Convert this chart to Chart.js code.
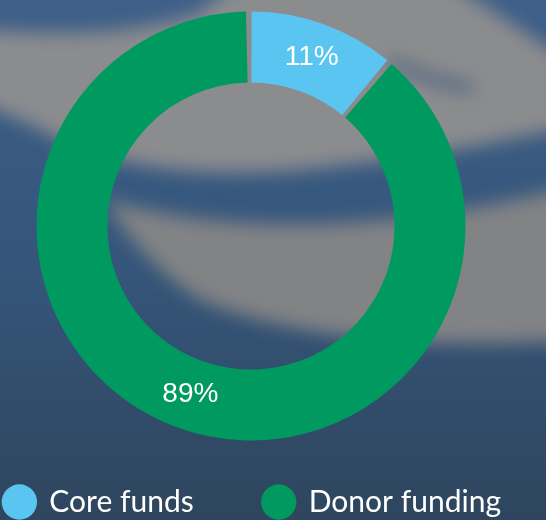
<!DOCTYPE html>
<html>
<head>
<meta charset="utf-8">
<title>Core funds and donor funding</title>
<script src="https://cdn.jsdelivr.net/npm/chart.js@4.4.1/dist/chart.umd.min.js"></script>
<style>
  html, body { margin: 0; padding: 0; }
  body { width: 546px; height: 520px; overflow: hidden; position: relative; background: #34557a; }
  #bg { position: absolute; left: 0; top: 0; }
  #chartBox { position: absolute; left: -69px; top: 0; width: 640px; height: 527px; }
</style>
</head>
<body>
<canvas id="bg" width="546" height="520"></canvas>
<div id="chartBox"><canvas id="fundingChart"></canvas></div>
<script>
const categories = ['Core funds', 'Donor funding'];
const shares = [11, 89];
const sliceColors = ['#5bc5f2', '#00995f'];

// blurred photo-like backdrop behind the chart
function paintBackground() {
    const g = document.getElementById('bg').getContext('2d');
    const grad = g.createLinearGradient(0, 0, 0, 520);
    grad.addColorStop(0, '#3e6089');
    grad.addColorStop(0.5, '#35567b');
    grad.addColorStop(1, '#2e455d');
    g.fillStyle = grad;
    g.fillRect(0, 0, 546, 520);

    g.filter = 'blur(9px)';
    // upper wing
    g.fillStyle = '#8b8c8e';
    g.beginPath();
    g.moveTo(-30, 28);
    g.quadraticCurveTo(120, 42, 200, 12);
    g.lineTo(250, -30);
    g.lineTo(430, -30);
    g.lineTo(580, 68);
    g.lineTo(580, 124);
    g.quadraticCurveTo(450, 155, 300, 170);
    g.quadraticCurveTo(150, 182, 60, 140);
    g.quadraticCurveTo(20, 118, -30, 100);
    g.closePath();
    g.fill();
    // lower wing
    g.fillStyle = '#828385';
    g.beginPath();
    g.moveTo(105, 200);
    g.quadraticCurveTo(300, 255, 580, 185);
    g.lineTo(580, 340);
    g.quadraticCurveTo(330, 355, 200, 300);
    g.quadraticCurveTo(140, 260, 105, 200);
    g.closePath();
    g.fill();
    // thin dark streak in the upper right
    g.strokeStyle = 'rgba(58, 86, 124, 0.8)';
    g.lineWidth = 9;
    g.beginPath();
    g.moveTo(390, 62);
    g.quadraticCurveTo(430, 82, 472, 88);
    g.stroke();
    g.filter = 'none';
}
paintBackground();

const sliceLabels = {
    id: 'sliceLabels',
    afterDatasetsDraw(chart) {
        const ctx = chart.ctx;
        const meta = chart.getDatasetMeta(0);
        ctx.save();
        ctx.font = '28px "Liberation Sans", Arial, sans-serif';
        ctx.fillStyle = '#ffffff';
        ctx.textAlign = 'center';
        ctx.textBaseline = 'middle';
        meta.data.forEach((arc, i) => {
            const pos = arc.tooltipPosition();
            ctx.fillText(shares[i] + '%', pos.x, pos.y);
        });
        ctx.restore();
    }
};

new Chart(document.getElementById('fundingChart'), {
    type: 'doughnut',
    data: {
        labels: categories,
        datasets: [{
            data: shares,
            backgroundColor: sliceColors,
            borderWidth: 0,
            hoverOffset: 0,
            spacing: 3,
            radius: 213,
            cutout: '66.7%',
            clip: false
        }]
    },
    options: {
        responsive: true,
        maintainAspectRatio: false,
        animation: false,
        events: [],
        layout: { padding: { top: 35, bottom: 0, left: 0, right: 0 } },
        plugins: {
            tooltip: { enabled: false },
            legend: {
                position: 'bottom',
                align: 'end',
                labels: {
                    usePointStyle: true,
                    pointStyle: 'circle',
                    boxWidth: 30,
                    boxHeight: 25,
                    padding: 70,
                    color: '#ffffff',
                    font: { family: 'Lato', size: 30 }
                }
            }
        }
    },
    plugins: [sliceLabels]
});
</script>
</body>
</html>
